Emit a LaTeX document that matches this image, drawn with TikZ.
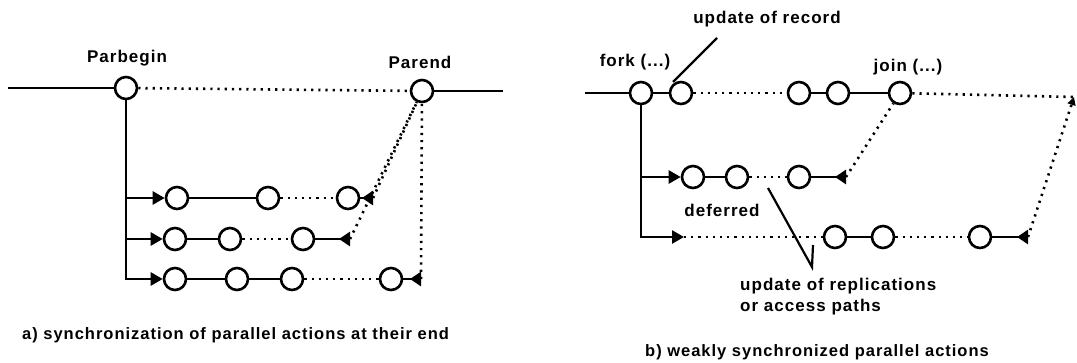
\documentclass[tikz,border=0pt]{standalone}
\usepackage{fontspec}
\setmainfont{Liberation Sans}
\newfontfamily\lblfont[LetterSpace=6]{Liberation Sans}
\usetikzlibrary{arrows.meta}
\begin{document}
\begin{tikzpicture}[x=1pt,y=-1pt,
  st/.style={circle, draw, line width=2.6pt, minimum size=22pt, inner sep=0pt},
  sol/.style={line width=2.6pt},
  dotl/.style={line width=2.6pt, dash pattern=on 2.2pt off 5pt},
  lbl/.style={font=\lblfont\fontsize{17}{21}\selectfont\bfseries, inner sep=0pt},
  captxt/.style={font=\lblfont\fontsize{16.5}{20}\selectfont\bfseries, inner sep=0pt},
  gotip/.style={sol, -{Triangle[length=12pt,width=13pt]}},
  endtip/.style={sol, -{Triangle[reversed,length=11pt,width=14pt]}}]
\useasboundingbox (0,0) rectangle (1077,362);
% ---------- panel a ----------
\node[st] (pb) at (126,88) {};
\node[st] (pe) at (422,91) {};
\coordinate (l0) at (8,88);
\coordinate (r0) at (503,91);
\node[lbl] (tpb) at (127,58) {Parbegin};
\node[lbl] (tpe) at (420,62) {Parend};
\draw[sol] (l0) -- (pb);
\draw[sol] (pe) -- (r0);
\draw[dotl] (pb) -- (pe);
% row 1
\node[st] (a11) at (177,198) {};
\node[st] (a12) at (268,198) {};
\node[st] (a13) at (348,198) {};
\coordinate (t1) at (373,198);
% row 2
\node[st] (a21) at (175,239) {};
\node[st] (a22) at (230,239) {};
\node[st] (a23) at (303,239) {};
\coordinate (t2) at (350,239);
% row 3
\node[st] (a31) at (175,279) {};
\node[st] (a32) at (237,279) {};
\node[st] (a33) at (292,279) {};
\node[st] (a34) at (391,279) {};
\coordinate (t3) at (421,279);
\draw[gotip] (pb) |- (a11);
\draw[gotip] (pb) |- (a21);
\draw[gotip] (pb) |- (a31);
\draw[sol] (a11) -- (a12);
\draw[dotl] (a12) -- (a13);
\draw[endtip] (a13) -- (t1);
\draw[sol] (a21) -- (a22);
\draw[dotl] (a22) -- (a23);
\draw[endtip] (a23) -- (t2);
\draw[sol] (a31) -- (a32) -- (a33);
\draw[dotl] (a33) -- (a34);
\draw[endtip] (a34) -- (t3);
\draw[dotl] (t1) -- (pe);
\draw[dotl] (t2) -- (pe);
\draw[dotl] (t3) -- (pe);
\node[captxt, anchor=west] (capa) at (22,335) {a) synchronization of parallel actions at their end};
% ---------- panel b ----------
\coordinate (l1) at (585,93);
\node[st] (fk) at (641,93) {};
\node[st] (u1) at (681,93) {};
\node[st] (u2) at (799,93) {};
\node[st] (u3) at (838,93) {};
\node[st] (jn) at (900,93) {};
\coordinate (te) at (1074,97);
\node[lbl] (tfk) at (635,62) {fork (...)};
\node[lbl] (tjn) at (908,67) {join (...)};
\node[lbl] (tur) at (767,19) {update of record};
\draw[sol] (l1) -- (fk);
\draw[sol] (fk) -- (u1);
\draw[dotl] (u1) -- (u2);
\draw[sol] (u2) -- (u3) -- (jn);
\draw[dotl] (jn) -- (te);
\coordinate (p1) at (717,38);
\coordinate (p2) at (673,82);
\draw[line width=2.2pt] (p1) -- (p2);
% row 1
\node[st] (b11) at (693,177) {};
\node[st] (b12) at (737,177) {};
\node[st] (b13) at (799,177) {};
\coordinate (s1) at (846,177);
% row 2
\coordinate (b20) at (684,237);
\node[st] (b21) at (835,237) {};
\node[st] (b22) at (883,237) {};
\node[st] (b23) at (980,237) {};
\coordinate (s2) at (1028,237);
\draw[gotip] (fk) |- (b11);
\draw[gotip] (fk) |- (b20);
\draw[sol] (b11) -- (b12);
\draw[dotl] (b12) -- (b13);
\draw[endtip] (b13) -- (s1);
\draw[dotl] (b20) -- (b21);
\draw[sol] (b21) -- (b22);
\draw[dotl] (b22) -- (b23);
\draw[endtip] (b23) -- (s2);
\draw[dotl] (s1) -- (jn);
\draw[dotl, -{Triangle[length=8pt,width=8pt]}] (s2) -- (te);
\node[lbl] (tdf) at (722,210) {deferred};
\node[lbl, anchor=west, align=left] (trp) at (740,297) {update of replications\\or access paths};
\coordinate (q1) at (768,188);
\coordinate (q2) at (812,267);
\coordinate (q3) at (813,245);
\draw[line width=2.2pt] (q1) -- (q2) -- (q3);
\node[captxt, anchor=west] (capb) at (645,352) {b) weakly synchronized parallel actions};
\end{tikzpicture}
\end{document}
